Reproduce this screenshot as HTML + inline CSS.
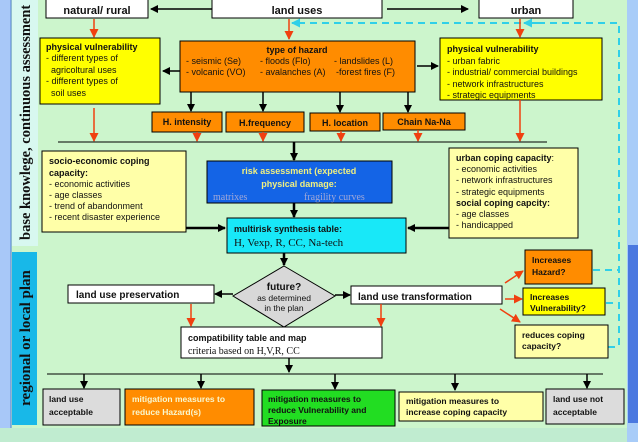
<!DOCTYPE html>
<html><head><meta charset="utf-8"><style>
html,body{margin:0;padding:0;background:#ccf5cc}
svg{display:block}
text{font-family:"Liberation Sans",sans-serif;font-size:9px;fill:#111}
.b{font-weight:bold}
.s{font-family:"Liberation Serif",serif}
</style></head><body>
<svg width="638" height="442" viewBox="0 0 638 442" xmlns="http://www.w3.org/2000/svg">
<defs>
<marker id="ak" markerWidth="8" markerHeight="8" refX="7" refY="4" orient="auto" markerUnits="userSpaceOnUse"><path d="M0,0 L8,4 L0,8z" fill="#000"/></marker>
<marker id="ar" markerWidth="9" markerHeight="9" refX="8" refY="4.5" orient="auto" markerUnits="userSpaceOnUse"><path d="M0,0 L9,4.5 L0,9z" fill="#f04010"/></marker>
<marker id="ac" markerWidth="9" markerHeight="9" refX="8" refY="4.5" orient="auto" markerUnits="userSpaceOnUse"><path d="M0,0 L9,4.5 L0,9z" fill="#30d0e8"/></marker>
</defs>
<rect width="638" height="442" fill="#ccf5cc"/>
<rect x="0" y="0" width="11" height="442" fill="#a8c8f8"/>
<line x1="11" y1="0" x2="11" y2="428" stroke="#5080d0"/>
<rect x="12" y="0" width="26" height="246" fill="#d8f8f0"/>
<rect x="12" y="252" width="25" height="173" fill="#18b8e8"/>
<rect x="0" y="428" width="638" height="14" fill="#c0ecd0"/>
<rect x="627" y="0" width="11" height="442" fill="#a8ccf8"/>
<rect x="628" y="245" width="10" height="178" fill="#4a78e0"/>
<text class="s b" transform="translate(30,240) rotate(-90)" style="font-size:14.5px">base knowlege, continuous assessment</text>
<text class="s b" transform="translate(30,338) rotate(-90)" text-anchor="middle" style="font-size:15px">regional or local plan</text>

<!-- top boxes -->
<rect x="46" y="-1" width="102" height="19" fill="#fff" stroke="#000"/>
<text x="97" y="14" class="b" text-anchor="middle" style="font-size:11px">natural/ rural</text>
<rect x="212" y="-1" width="170" height="19" fill="#fff" stroke="#000"/>
<text x="297" y="14" class="b" text-anchor="middle" style="font-size:11px">land uses</text>
<rect x="479" y="-1" width="94" height="19" fill="#fff" stroke="#000"/>
<text x="526" y="14" class="b" text-anchor="middle" style="font-size:11px">urban</text>
<line x1="212" y1="9" x2="151" y2="9" stroke="#000" stroke-width="1.5" marker-end="url(#ak)"/>
<line x1="387" y1="9" x2="468" y2="9" stroke="#000" stroke-width="1.5" marker-end="url(#ak)"/>

<!-- cyan dashed -->
<path d="M298,23 L619,23 L619,347" fill="none" stroke="#30d0e8" stroke-width="2" stroke-dasharray="7,5"/>
<line x1="305" y1="23" x2="292" y2="23" stroke="#30d0e8" stroke-width="2" marker-end="url(#ac)"/>
<line x1="540" y1="23" x2="524" y2="23" stroke="#30d0e8" stroke-width="2" marker-end="url(#ac)"/>
<path d="M593,270 L619,270 M606,303 L619,303 M608,347 L619,347" stroke="#30d0e8" stroke-width="2" stroke-dasharray="7,5"/>

<!-- red arrows top -->
<line x1="94" y1="19" x2="94" y2="37" stroke="#f04010" stroke-width="1.5" marker-end="url(#ar)"/>
<line x1="289" y1="19" x2="289" y2="39" stroke="#f04010" stroke-width="1.5" marker-end="url(#ar)"/>
<line x1="520" y1="19" x2="520" y2="37" stroke="#f04010" stroke-width="1.5" marker-end="url(#ar)"/>

<!-- phys vuln left -->
<rect x="40" y="38" width="120" height="66" fill="#ffff00" stroke="#000"/>
<text x="46" y="50" class="b">physical vulnerability</text>
<text x="46" y="61">- different types of</text>
<text x="51" y="73">agricoltural uses</text>
<text x="46" y="84">- different types of</text>
<text x="51" y="96">soil uses</text>

<!-- hazard -->
<rect x="180" y="41" width="235" height="51" fill="#ff8c00" stroke="#000"/>
<text x="297" y="53" class="b" text-anchor="middle">type of hazard</text>
<text x="186" y="64">- seismic (Se)</text><text x="260" y="64">- floods (Flo)</text><text x="334" y="64">- landslides (L)</text>
<text x="186" y="75">- volcanic (VO)</text><text x="260" y="75">- avalanches (A)</text><text x="336" y="75">-forest fires (F)</text>
<line x1="180" y1="71" x2="163" y2="71" stroke="#000" stroke-width="1.5" marker-end="url(#ak)"/>
<line x1="417" y1="66" x2="438" y2="66" stroke="#000" stroke-width="1.5" marker-end="url(#ak)"/>

<!-- phys vuln right -->
<rect x="440" y="38" width="162" height="62" fill="#ffff00" stroke="#000"/>
<text x="447" y="52" class="b">physical  vulnerability</text>
<text x="447" y="64">- urban fabric</text>
<text x="447" y="75">- industrial/ commercial buildings</text>
<text x="447" y="87">- network infrastructures</text>
<text x="447" y="98">- strategic equipments</text>

<!-- H boxes -->
<g stroke="#000" stroke-width="1.5">
<line x1="191" y1="92" x2="191" y2="111" marker-end="url(#ak)"/>
<line x1="263" y1="92" x2="263" y2="111" marker-end="url(#ak)"/>
<line x1="340" y1="92" x2="340" y2="112" marker-end="url(#ak)"/>
<line x1="408" y1="92" x2="408" y2="112" marker-end="url(#ak)"/>
</g>
<rect x="152" y="112" width="70" height="20" fill="#ff8c00" stroke="#000"/>
<text x="187" y="125" class="b" text-anchor="middle">H. intensity</text>
<rect x="226" y="112" width="78" height="20" fill="#ff8c00" stroke="#000"/>
<text x="265" y="126" class="b" text-anchor="middle">H.frequency</text>
<rect x="310" y="113" width="70" height="18" fill="#ff8c00" stroke="#000"/>
<text x="345" y="126" class="b" text-anchor="middle">H. location</text>
<rect x="383" y="113" width="82" height="17" fill="#ff8c00" stroke="#000"/>
<text x="424" y="125" class="b" text-anchor="middle">Chain Na-Na</text>
<g stroke="#f04010" stroke-width="1.5">
<line x1="197" y1="132" x2="197" y2="141" marker-end="url(#ar)"/>
<line x1="263" y1="132" x2="263" y2="141" marker-end="url(#ar)"/>
<line x1="341" y1="131" x2="341" y2="141" marker-end="url(#ar)"/>
<line x1="418" y1="130" x2="418" y2="141" marker-end="url(#ar)"/>
<line x1="94" y1="108" x2="94" y2="141" marker-end="url(#ar)"/>
<line x1="520" y1="100" x2="520" y2="141" marker-end="url(#ar)"/>
</g>
<line x1="58" y1="142" x2="547" y2="142" stroke="#000"/>
<line x1="294" y1="142" x2="294" y2="160" stroke="#000" stroke-width="2.5" marker-end="url(#ak)"/>

<!-- socio -->
<rect x="42" y="151" width="144" height="81" fill="#ffffa8" stroke="#000"/>
<text x="49" y="164" class="b">socio-economic coping</text>
<text x="49" y="176" class="b">capacity:</text>
<text x="49" y="187">- economic activities</text>
<text x="49" y="198">- age classes</text>
<text x="49" y="209">- trend of abandonment</text>
<text x="49" y="220">- recent disaster experience</text>

<!-- risk -->
<rect x="207" y="161" width="185" height="42" fill="#1464e6" stroke="#000"/>
<text x="299" y="174" class="b" text-anchor="middle" style="fill:#f0f080">risk assessment (expected</text>
<text x="299" y="187" class="b" text-anchor="middle" style="fill:#f0f080">physical damage:</text>
<text x="213" y="200" class="s" style="fill:#a0a8d8;font-size:10px">matrixes</text>
<text x="304" y="200" class="s" style="fill:#a0a8d8;font-size:10px">fragility curves</text>
<line x1="294" y1="203" x2="294" y2="217" stroke="#000" stroke-width="2.5" marker-end="url(#ak)"/>

<!-- multirisk -->
<rect x="227" y="218" width="179" height="35" fill="#18e8f8" stroke="#000"/>
<text x="234" y="232" class="b">multirisk synthesis table:</text>
<text x="234" y="246" class="s" style="font-size:11px">H, Vexp, R, CC, Na-tech</text>
<line x1="186" y1="228" x2="225" y2="228" stroke="#000" stroke-width="2.5" marker-end="url(#ak)"/>
<line x1="449" y1="228" x2="408" y2="228" stroke="#000" stroke-width="2.5" marker-end="url(#ak)"/>

<!-- urban coping -->
<rect x="449" y="148" width="129" height="90" fill="#ffffa8" stroke="#000"/>
<text x="456" y="161"><tspan class="b">urban coping capacity</tspan>:</text>
<text x="456" y="172">- economic activities</text>
<text x="456" y="183">- network infrastructures</text>
<text x="456" y="195">- strategic equipments</text>
<text x="456" y="206" class="b">social coping capcity:</text>
<text x="456" y="217">- age classes</text>
<text x="456" y="228">- handicapped</text>

<!-- diamond -->
<line x1="284" y1="253" x2="284" y2="265" stroke="#000" stroke-width="2.5" marker-end="url(#ak)"/>
<polygon points="284,266 335,296 284,327 233,296" fill="#d8d8d8" stroke="#000"/>
<text x="284" y="290" class="b" text-anchor="middle" style="font-size:10px">future?</text>
<text x="284" y="301" text-anchor="middle" style="font-size:8.5px">as determined</text>
<text x="284" y="311" text-anchor="middle" style="font-size:8.5px">in the plan</text>
<line x1="233" y1="294" x2="215" y2="294" stroke="#000" stroke-width="1.5" marker-end="url(#ak)"/>
<line x1="335" y1="295" x2="350" y2="295" stroke="#000" stroke-width="1.5" marker-end="url(#ak)"/>
<rect x="68" y="285" width="146" height="18" fill="#fff" stroke="#000"/>
<text x="76" y="298" class="b" style="font-size:10px">land use  preservation</text>
<rect x="351" y="286" width="151" height="18" fill="#fff" stroke="#000"/>
<text x="358" y="300" class="b" style="font-size:10px">land use transformation</text>
<g stroke="#f04010" stroke-width="1.5">
<line x1="191" y1="304" x2="191" y2="326" marker-end="url(#ar)"/>
<line x1="381" y1="304" x2="381" y2="326" marker-end="url(#ar)"/>
<line x1="505" y1="283" x2="523" y2="271" marker-end="url(#ar)"/>
<line x1="505" y1="299" x2="522" y2="299" marker-end="url(#ar)"/>
<line x1="500" y1="309" x2="520" y2="322" marker-end="url(#ar)"/>
</g>
<rect x="181" y="327" width="201" height="31" fill="#fff" stroke="#000"/>
<text x="188" y="341" class="b">compatibility table and map</text>
<text x="188" y="354" class="s" style="font-size:10px">criteria based on H,V,R, CC</text>
<rect x="525" y="250" width="67" height="34" fill="#ff8c00" stroke="#000"/>
<text x="532" y="263" class="b" style="font-size:8.5px">Increases</text>
<text x="532" y="275" class="b" style="font-size:8.5px">Hazard?</text>
<rect x="523" y="288" width="82" height="27" fill="#ffff00" stroke="#000"/>
<text x="530" y="300" class="b" style="font-size:8.5px">Increases</text>
<text x="530" y="311" class="b" style="font-size:8.5px">Vulnerability?</text>
<rect x="515" y="325" width="93" height="33" fill="#ffffa8" stroke="#000"/>
<text x="522" y="338" class="b" style="font-size:8.5px">reduces coping</text>
<text x="522" y="349" class="b" style="font-size:8.5px">capacity?</text>

<!-- bottom -->
<line x1="289" y1="358" x2="289" y2="372" stroke="#000" stroke-width="1.5" marker-end="url(#ak)"/>
<line x1="47" y1="374" x2="603" y2="374" stroke="#000"/>
<g stroke="#000" stroke-width="1.5">
<line x1="84" y1="374" x2="84" y2="388" marker-end="url(#ak)"/>
<line x1="201" y1="374" x2="201" y2="388" marker-end="url(#ak)"/>
<line x1="335" y1="374" x2="335" y2="389" marker-end="url(#ak)"/>
<line x1="455" y1="374" x2="455" y2="390" marker-end="url(#ak)"/>
<line x1="587" y1="374" x2="587" y2="388" marker-end="url(#ak)"/>
</g>
<rect x="43" y="389" width="77" height="36" fill="#dcdcdc" stroke="#000"/>
<text x="49" y="402" class="b" style="font-size:8.5px">land use</text>
<text x="49" y="415" class="b" style="font-size:8.5px">acceptable</text>
<rect x="125" y="389" width="129" height="36" fill="#ff8c00" stroke="#000"/>
<text x="132" y="402" class="b" style="font-size:8.5px;fill:#f8f8d0">mitigation  measures to</text>
<text x="132" y="415" class="b" style="font-size:8.5px;fill:#f8f8d0">reduce Hazard(s)</text>
<rect x="262" y="390" width="133" height="36" fill="#22dd22" stroke="#000"/>
<text x="268" y="402" class="b" style="font-size:8.5px">mitigation  measures to</text>
<text x="268" y="413" class="b" style="font-size:8.5px">reduce Vulnerability and</text>
<text x="268" y="424" class="b" style="font-size:8.5px">Exposure</text>
<rect x="399" y="392" width="144" height="29" fill="#ffffa8" stroke="#000"/>
<text x="406" y="404" class="b" style="font-size:8.5px">mitigation  measures to</text>
<text x="406" y="415" class="b" style="font-size:8.5px">increase coping capacity</text>
<rect x="546" y="389" width="78" height="35" fill="#dcdcdc" stroke="#000"/>
<text x="553" y="402" class="b" style="font-size:8.5px">land use not</text>
<text x="553" y="415" class="b" style="font-size:8.5px">acceptable</text>
</svg>
</body></html>
